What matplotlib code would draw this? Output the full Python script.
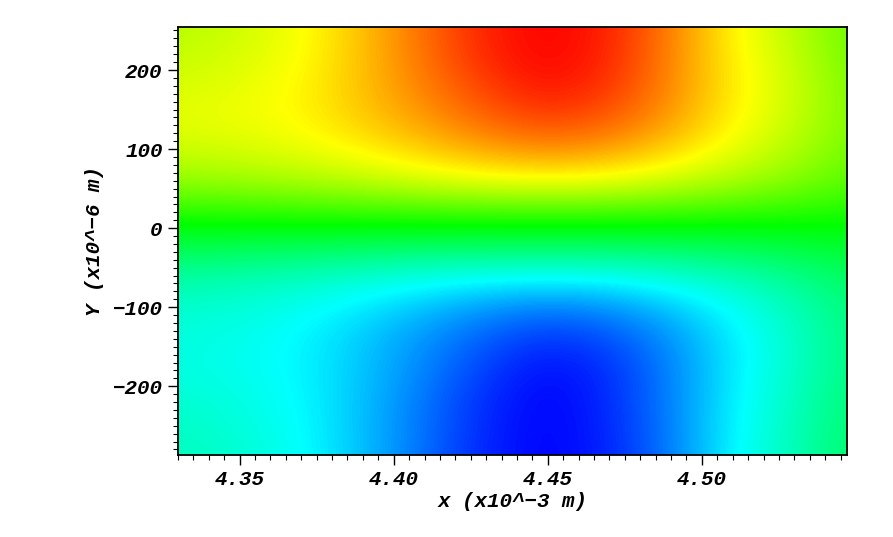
import numpy as np
import matplotlib
matplotlib.use("Agg")
import matplotlib.pyplot as plt
from matplotlib.colors import LinearSegmentedColormap
from matplotlib.ticker import MultipleLocator

# ── Field samples (normalised, -1 blue .. +1 red) ───────────────────────────
x_nodes = [4.33, 4.35, 4.37, 4.39, 4.41, 4.43, 4.45, 4.47, 4.49, 4.51, 4.53, 4.55]
y_nodes = [260, 220, 180, 140, 100, 60, 20, -20, -60, -100, -140, -180, -220, -260, -300]

field = [
    [0.35, 0.40, 0.48, 0.62, 0.79, 0.94, 1.00, 0.94, 0.75, 0.51, 0.36, 0.19],
    [0.38, 0.42, 0.49, 0.62, 0.78, 0.93, 1.00, 0.93, 0.74, 0.52, 0.38, 0.20],
    [0.42, 0.45, 0.51, 0.62, 0.75, 0.88, 0.97, 0.90, 0.73, 0.53, 0.40, 0.22],
    [0.45, 0.47, 0.51, 0.60, 0.70, 0.81, 0.88, 0.83, 0.69, 0.52, 0.39, 0.23],
    [0.40, 0.42, 0.46, 0.52, 0.60, 0.68, 0.73, 0.69, 0.59, 0.46, 0.35, 0.21],
    [0.29, 0.31, 0.34, 0.38, 0.43, 0.47, 0.49, 0.47, 0.41, 0.34, 0.26, 0.16],
    [0.08, 0.09, 0.10, 0.11, 0.12, 0.13, 0.13, 0.13, 0.12, 0.10, 0.08, 0.05],
    [-0.13, -0.14, -0.15, -0.16, -0.17, -0.17, -0.17, -0.17, -0.16, -0.14, -0.11, -0.07],
    [-0.31, -0.33, -0.36, -0.40, -0.44, -0.46, -0.47, -0.46, -0.41, -0.35, -0.27, -0.17],
    [-0.40, -0.42, -0.47, -0.54, -0.62, -0.70, -0.75, -0.71, -0.61, -0.48, -0.36, -0.22],
    [-0.43, -0.46, -0.51, -0.60, -0.71, -0.82, -0.90, -0.85, -0.71, -0.53, -0.39, -0.23],
    [-0.44, -0.46, -0.51, -0.61, -0.74, -0.88, -0.98, -0.91, -0.74, -0.53, -0.39, -0.23],
    [-0.40, -0.44, -0.50, -0.62, -0.77, -0.92, -1.00, -0.92, -0.74, -0.52, -0.37, -0.21],
    [-0.38, -0.42, -0.49, -0.62, -0.78, -0.93, -1.00, -0.93, -0.75, -0.51, -0.36, -0.20],
    [-0.36, -0.40, -0.48, -0.62, -0.79, -0.94, -1.00, -0.94, -0.75, -0.50, -0.35, -0.19],
]

x_lim = (4.33, 4.547)
y_lim = (-287, 254)

# ── Style ─────────────────────────────────────────────────────────────────
cmap = LinearSegmentedColormap.from_list(
    "bcgyr", ["#0000ff", "#00ffff", "#00ff00", "#ffff00", "#ff0000"])
font = dict(family="Liberation Mono", weight="bold", style="italic", size=15)

fig = plt.figure(figsize=(8.93, 5.37), dpi=100)
ax = fig.add_axes([0.1993, 0.1527, 0.7489, 0.7964])

dx = x_nodes[1] - x_nodes[0]
dy = y_nodes[0] - y_nodes[1]
extent = [x_nodes[0] - dx / 2, x_nodes[-1] + dx / 2,
          y_nodes[-1] - dy / 2, y_nodes[0] + dy / 2]
ax.imshow(np.array(field), cmap=cmap, vmin=-1, vmax=1, extent=extent,
          aspect="auto", interpolation="bicubic", origin="upper")

ax.set_xlim(*x_lim)
ax.set_ylim(*y_lim)

ax.xaxis.set_major_locator(MultipleLocator(0.05))
ax.xaxis.set_minor_locator(MultipleLocator(0.005))
ax.yaxis.set_major_locator(MultipleLocator(100))
ax.yaxis.set_minor_locator(MultipleLocator(10))
ax.xaxis.set_major_formatter(plt.FuncFormatter(lambda v, p: f"{v:.2f}"))
ax.yaxis.set_major_formatter(plt.FuncFormatter(lambda v, p: f"{v:.0f}".replace("-", "\u2212")))

ax.tick_params(which="major", direction="out", length=7, width=1, pad=4,
               top=False, right=False)
ax.tick_params(which="minor", direction="out", length=3.5, width=0.8,
               top=False, right=False)
for lab in ax.get_xticklabels() + ax.get_yticklabels():
    lab.set_fontproperties(font["family"])
    lab.set_fontweight("bold")
    lab.set_fontstyle("italic")
    lab.set_fontsize(font["size"])

for sp in ax.spines.values():
    sp.set_linewidth(1.3)

ax.set_xlabel("x (x10^\u22123 m)", fontdict=font, labelpad=2)
ax.set_ylabel("Y (x10^\u22126 m)", fontdict=font, labelpad=6)

fig.savefig("out.png", dpi=100)
